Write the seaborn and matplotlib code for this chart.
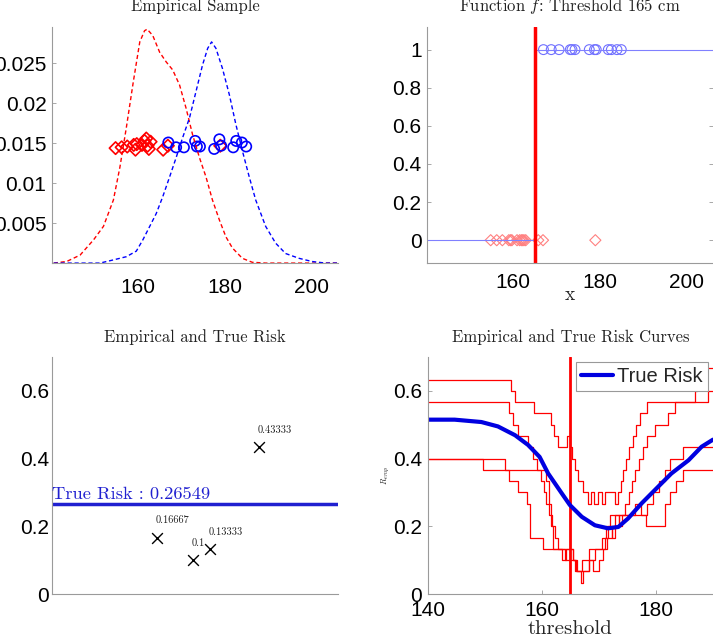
import numpy as np
import pandas as pd
import matplotlib
matplotlib.use("Agg")
import matplotlib.pyplot as plt
import seaborn as sns

# ---------------- data ----------------
# class-0 sample (red diamonds) and class-1 sample (blue circles), heights in cm
red_x = [154.8, 156.2, 157.5, 159.0, 159.4, 159.7, 160.9, 161.5, 161.9, 162.2, 162.5, 162.9, 165.8, 166.9, 179.0]
red_y = [0.0144, 0.0145, 0.0146, 0.0148, 0.0142, 0.0149, 0.0148, 0.0153, 0.0156, 0.0147, 0.0143, 0.0152, 0.0142, 0.0147, 0.0147]
blue_x = [167.0, 168.8, 170.6, 173.2, 173.6, 174.3, 177.6, 178.8, 179.2, 182.0, 182.7, 184.0, 185.0]
blue_y = [0.0151, 0.0145, 0.0145, 0.0153, 0.0146, 0.0146, 0.0143, 0.0155, 0.0147, 0.0145, 0.0153, 0.0151, 0.0146]

# population densities (dashed curves)
dens_red_x = [140.5, 143.5, 146.6, 149.7, 152.0, 154.3, 155.8, 157.3, 158.9, 160.4, 161.5, 162.1, 163.4, 165.0,
              166.5, 168.0, 169.6, 171.1, 172.6, 174.2, 175.7, 177.2, 178.8, 180.3, 181.8, 184.1, 186.4, 189.5, 206.2]
dens_red_y = [0.0, 0.0002, 0.0010, 0.0029, 0.0046, 0.0079, 0.0120, 0.0170, 0.0227, 0.0277, 0.0291, 0.0293, 0.0285,
              0.0264, 0.0252, 0.0242, 0.0223, 0.0194, 0.0161, 0.0132, 0.0108, 0.0079, 0.0054, 0.0033, 0.0019,
              0.0006, 0.0001, 0.0, 0.0]
dens_blue_x = [140.5, 151.2, 154.3, 157.3, 159.6, 161.1, 162.7, 164.2, 165.7, 167.3, 168.8, 170.3, 171.9, 173.4,
               174.9, 176.1, 177.0, 178.0, 179.5, 181.1, 182.6, 184.1, 185.7, 187.2, 189.5, 191.8, 194.1, 197.2,
               200.2, 203.3, 206.2]
dens_blue_y = [0.0, 0.0, 0.0004, 0.0008, 0.0015, 0.0029, 0.0046, 0.0062, 0.0083, 0.0108, 0.0132, 0.0157, 0.0182,
               0.0215, 0.0248, 0.0269, 0.0277, 0.0269, 0.0244, 0.0211, 0.0174, 0.0141, 0.0108, 0.0079, 0.0046,
               0.0025, 0.0012, 0.0006, 0.0002, 0.0, 0.0]

threshold = 165
func_x = [140.1, 165, 165, 206.2]
func_y = [0, 0, 1, 1]

# empirical risks of 4 samples at threshold 165, and the true risk
risk_pos = [0.367, 0.493, 0.552, 0.724]
risk_vals = [0.16667, 0.1, 0.13333, 0.43333]
risk_labels = ["0.16667", "0.1", "0.13333", "0.43333"]
true_risk = 0.26549

# true risk curve
tr_x = [140, 144.7, 149.4, 152.3, 155.3, 157.6, 159.6, 161.1, 163.5, 164.9, 167.0, 169.3, 171.6, 173.4,
        175.1, 177.5, 179.8, 182.7, 185.7, 188.0, 190]
tr_y = [0.515, 0.515, 0.508, 0.495, 0.469, 0.440, 0.405, 0.356, 0.297, 0.263, 0.228, 0.203, 0.194, 0.198,
        0.223, 0.268, 0.307, 0.356, 0.395, 0.435, 0.456]

# empirical risk curves (step functions, value from each breakpoint on)
c1_x = [140, 154.6, 155.3, 158.7, 161.6, 162.2, 162.8, 164.4, 164.9, 165.3, 165.8, 166.4, 167.2, 168.0, 168.6,
        169.2, 169.8, 170.6, 171.0, 172.2, 172.8, 173.3, 173.8, 174.3, 174.8, 175.3, 175.9, 176.5, 177.2, 178.4,
        186.8, 187.2, 190]
c1_y = [0.6333, 0.6, 0.5667, 0.5333, 0.5, 0.4667, 0.4333, 0.4667, 0.4333, 0.4, 0.3667, 0.3333, 0.3, 0.2667, 0.3,
        0.2667, 0.3, 0.2667, 0.3, 0.3, 0.2667, 0.3, 0.3333, 0.3667, 0.4, 0.4333, 0.4667, 0.5, 0.5333, 0.5667,
        0.6, 0.6667, 0.6667]
c2_x = [140, 154.3, 155.0, 155.8, 157.5, 158.5, 159.2, 159.8, 160.3, 160.8, 161.3, 161.8, 162.3, 162.8, 163.5,
        164.3, 165.5, 166.2, 166.8, 167.2, 168.2, 169.0, 170.0, 170.8, 171.5, 172.3, 172.8, 173.5, 174.0, 174.6,
        175.2, 175.8, 176.4, 177.0, 177.7, 178.5, 179.8, 182.1, 183.3, 189.2, 190]
c2_y = [0.5667, 0.5333, 0.5, 0.4667, 0.4333, 0.4, 0.3667, 0.3333, 0.3, 0.2667, 0.2333, 0.2, 0.1667, 0.1333, 0.1,
        0.1333, 0.1, 0.0667, 0.0333, 0.0667, 0.1, 0.0667, 0.1, 0.1333, 0.1667, 0.2, 0.2333, 0.2, 0.2333, 0.2667,
        0.3, 0.3333, 0.3667, 0.4, 0.4333, 0.4667, 0.5, 0.5333, 0.5667, 0.6, 0.6]
c3_x = [140, 149.6, 160.8, 161.2, 161.6, 162.0, 164.0, 165.8, 167.0, 168.3, 171.0, 171.6, 172.3, 172.8, 173.5,
        176.3, 177.3, 178.5, 179.5, 180.5, 181.5, 182.5, 184.7, 190]
c3_y = [0.4, 0.3667, 0.3333, 0.2667, 0.2, 0.1333, 0.1, 0.0667, 0.1, 0.1333, 0.1667, 0.2, 0.1667, 0.2, 0.2333,
        0.2667, 0.2333, 0.2667, 0.3, 0.3333, 0.3667, 0.4, 0.4333, 0.4333]
c4_x = [140, 153.6, 154.3, 155.8, 157.4, 158.0, 160.2, 165.4, 166.0, 168.3, 169.3, 170.5, 171.3, 172.0, 176.3,
        178.3, 181.5, 182.5, 183.5, 184.7, 190]
c4_y = [0.4, 0.3667, 0.3333, 0.3, 0.2667, 0.1667, 0.1333, 0.1, 0.0667, 0.1, 0.1333, 0.1667, 0.2, 0.2333, 0.2333,
        0.2, 0.2667, 0.3, 0.3333, 0.3667, 0.3667]
emp_curves = [(c1_x, c1_y), (c2_x, c2_y), (c3_x, c3_y), (c4_x, c4_y)]

# ---------------- style ----------------
sns.set_style("ticks")
plt.rcParams["font.family"] = ["Liberation Sans", "DejaVu Sans"]
plt.rcParams["mathtext.fontset"] = "cm"
plt.rcParams["xtick.direction"] = "in"
plt.rcParams["ytick.direction"] = "in"
SERIF = "cmr10"
GRAY = "#9a9a9a"
TICK_FS = 15
TITLE_FS = 12

fig = plt.figure(figsize=(7.13, 6.37), dpi=100)
ax1 = fig.add_axes([0.0729, 0.587, 0.401, 0.371])
ax2 = fig.add_axes([0.599, 0.587, 0.401, 0.371])
ax3 = fig.add_axes([0.0729, 0.0675, 0.401, 0.372])
ax4 = fig.add_axes([0.600, 0.0675, 0.400, 0.372])


def style_axes(ax, right=False):
    for side in ["top", "right"]:
        ax.spines[side].set_visible(False)
    for side in ["left", "bottom"]:
        ax.spines[side].set_color(GRAY)
        ax.spines[side].set_linewidth(0.8)
    if right:
        ax.spines["right"].set_visible(True)
        ax.spines["right"].set_color("#dddddd")
        ax.spines["right"].set_linewidth(0.6)
    ax.tick_params(axis="both", colors=GRAY, labelcolor="black", labelsize=TICK_FS, length=3, width=0.6,
                   right=right)


# ---- panel 1: empirical sample ----
sns.lineplot(x=dens_red_x, y=dens_red_y, ax=ax1, color="red", lw=1.0, linestyle=(0, (3, 2)), sort=False,
             estimator=None)
sns.lineplot(x=dens_blue_x, y=dens_blue_y, ax=ax1, color="blue", lw=1.0, linestyle=(0, (3, 2)), sort=False,
             estimator=None)
sns.scatterplot(x=red_x, y=red_y, ax=ax1, marker="D", s=40, facecolors="none", edgecolor="red", linewidth=1.2)
sns.scatterplot(x=blue_x, y=blue_y, ax=ax1, marker="o", s=55, facecolors="none", edgecolor="blue", linewidth=1.2)
ax1.set_xlim(140.1, 206.2)
ax1.set_ylim(0, 0.0296)
ax1.set_xticks([160, 180, 200])
ax1.set_yticks([0.005, 0.01, 0.015, 0.02, 0.025])
ax1.set_yticklabels(["0.005", "0.01", "0.015", "0.02", "0.025"])
style_axes(ax1)
ax1.tick_params(axis="x", pad=11, length=0)
ax1.tick_params(axis="y", pad=4)
ax1.set_title("Empirical Sample", fontfamily=SERIF, fontsize=TITLE_FS, pad=11, color="#222222")

# ---- panel 2: function f ----
sns.lineplot(x=func_x, y=func_y, ax=ax2, color="#8080ff", lw=0.8, sort=False, estimator=None)
sns.scatterplot(x=red_x, y=[0] * len(red_x), ax=ax2, marker="D", s=32, facecolors="none", edgecolor="#ff8080",
                linewidth=0.8)
sns.scatterplot(x=blue_x, y=[1] * len(blue_x), ax=ax2, marker="o", s=50, facecolors="none",
                edgecolor="#7070ff", linewidth=0.8)
ax2.axvline(threshold, color="red", lw=2.5)
ax2.set_xlim(140.1, 206.2)
ax2.set_ylim(-0.12, 1.12)
ax2.set_xticks([160, 180, 200])
ax2.set_yticks([0, 0.2, 0.4, 0.6, 0.8, 1])
ax2.set_yticklabels(["0", "0.2", "0.4", "0.6", "0.8", "1"])
style_axes(ax2, right=True)
ax2.tick_params(axis="x", pad=7, length=0)
ax2.tick_params(axis="y", pad=4)
ax2.set_xlabel("x", fontfamily=SERIF, fontsize=14, labelpad=-4)
ax2.set_title("Function $f$: Threshold 165 cm", fontfamily=SERIF, fontsize=TITLE_FS, pad=11, color="#222222")

# ---- panel 3: empirical and true risk ----
ax3.axhline(true_risk, color="#2020d0", lw=2.5)
sns.scatterplot(x=risk_pos, y=risk_vals, ax=ax3, marker="x", s=60, color="black", linewidth=1.0)
for xp, yv, lab in zip(risk_pos, risk_vals, risk_labels):
    ax3.text(xp - 0.004, yv + 0.05, lab, fontfamily=SERIF, fontsize=7.5, ha="left", va="center",
             color="#222222")
ax3.text(0.0, true_risk + 0.005, "True Risk : %.5f" % true_risk, fontfamily=SERIF, fontsize=13.3,
         color="#2020d0", ha="left", va="bottom", transform=ax3.get_yaxis_transform())
ax3.set_xlim(0, 1)
ax3.set_ylim(0, 0.7)
ax3.set_xticks([])
ax3.set_yticks([0, 0.2, 0.4, 0.6])
ax3.set_yticklabels(["0", "0.2", "0.4", "0.6"])
style_axes(ax3)
ax3.tick_params(axis="y", pad=2, length=0)
ax3.set_title("Empirical and True Risk", fontfamily=SERIF, fontsize=TITLE_FS, pad=11, color="#222222")

# ---- panel 4: risk curves ----
for cx, cy in emp_curves:
    sns.lineplot(x=cx, y=cy, ax=ax4, color="red", lw=0.9, drawstyle="steps-post", sort=False, estimator=None)
ax4.axvline(threshold, color="red", lw=2.0)
sns.lineplot(x=tr_x, y=tr_y, ax=ax4, color="#0000e0", lw=3.0, sort=False, estimator=None, label="True Risk")
ax4.set_xlim(140, 190)
ax4.set_ylim(0, 0.7)
ax4.set_xticks([140, 160, 180])
ax4.set_yticks([0, 0.2, 0.4, 0.6])
ax4.set_yticklabels(["0", "0.2", "0.4", "0.6"])
style_axes(ax4)
ax4.tick_params(axis="x", pad=5)
ax4.tick_params(axis="y", pad=4)
ax4.set_xlabel("threshold", fontfamily=SERIF, fontsize=15, labelpad=0)
ax4.set_ylabel("$R_{emp}$", fontsize=6, labelpad=1)
ax4.set_title("Empirical and True Risk Curves", fontfamily=SERIF, fontsize=TITLE_FS, pad=11, color="#222222")
leg = ax4.legend(loc="upper right", fontsize=14.5, frameon=True, fancybox=False, borderpad=0.25,
                 handlelength=1.6, handletextpad=0.2, borderaxespad=0.25)
leg.get_frame().set_edgecolor("#999999")
leg.get_frame().set_linewidth(0.8)
leg.get_frame().set_alpha(1.0)

fig.savefig("out.png", dpi=100)
